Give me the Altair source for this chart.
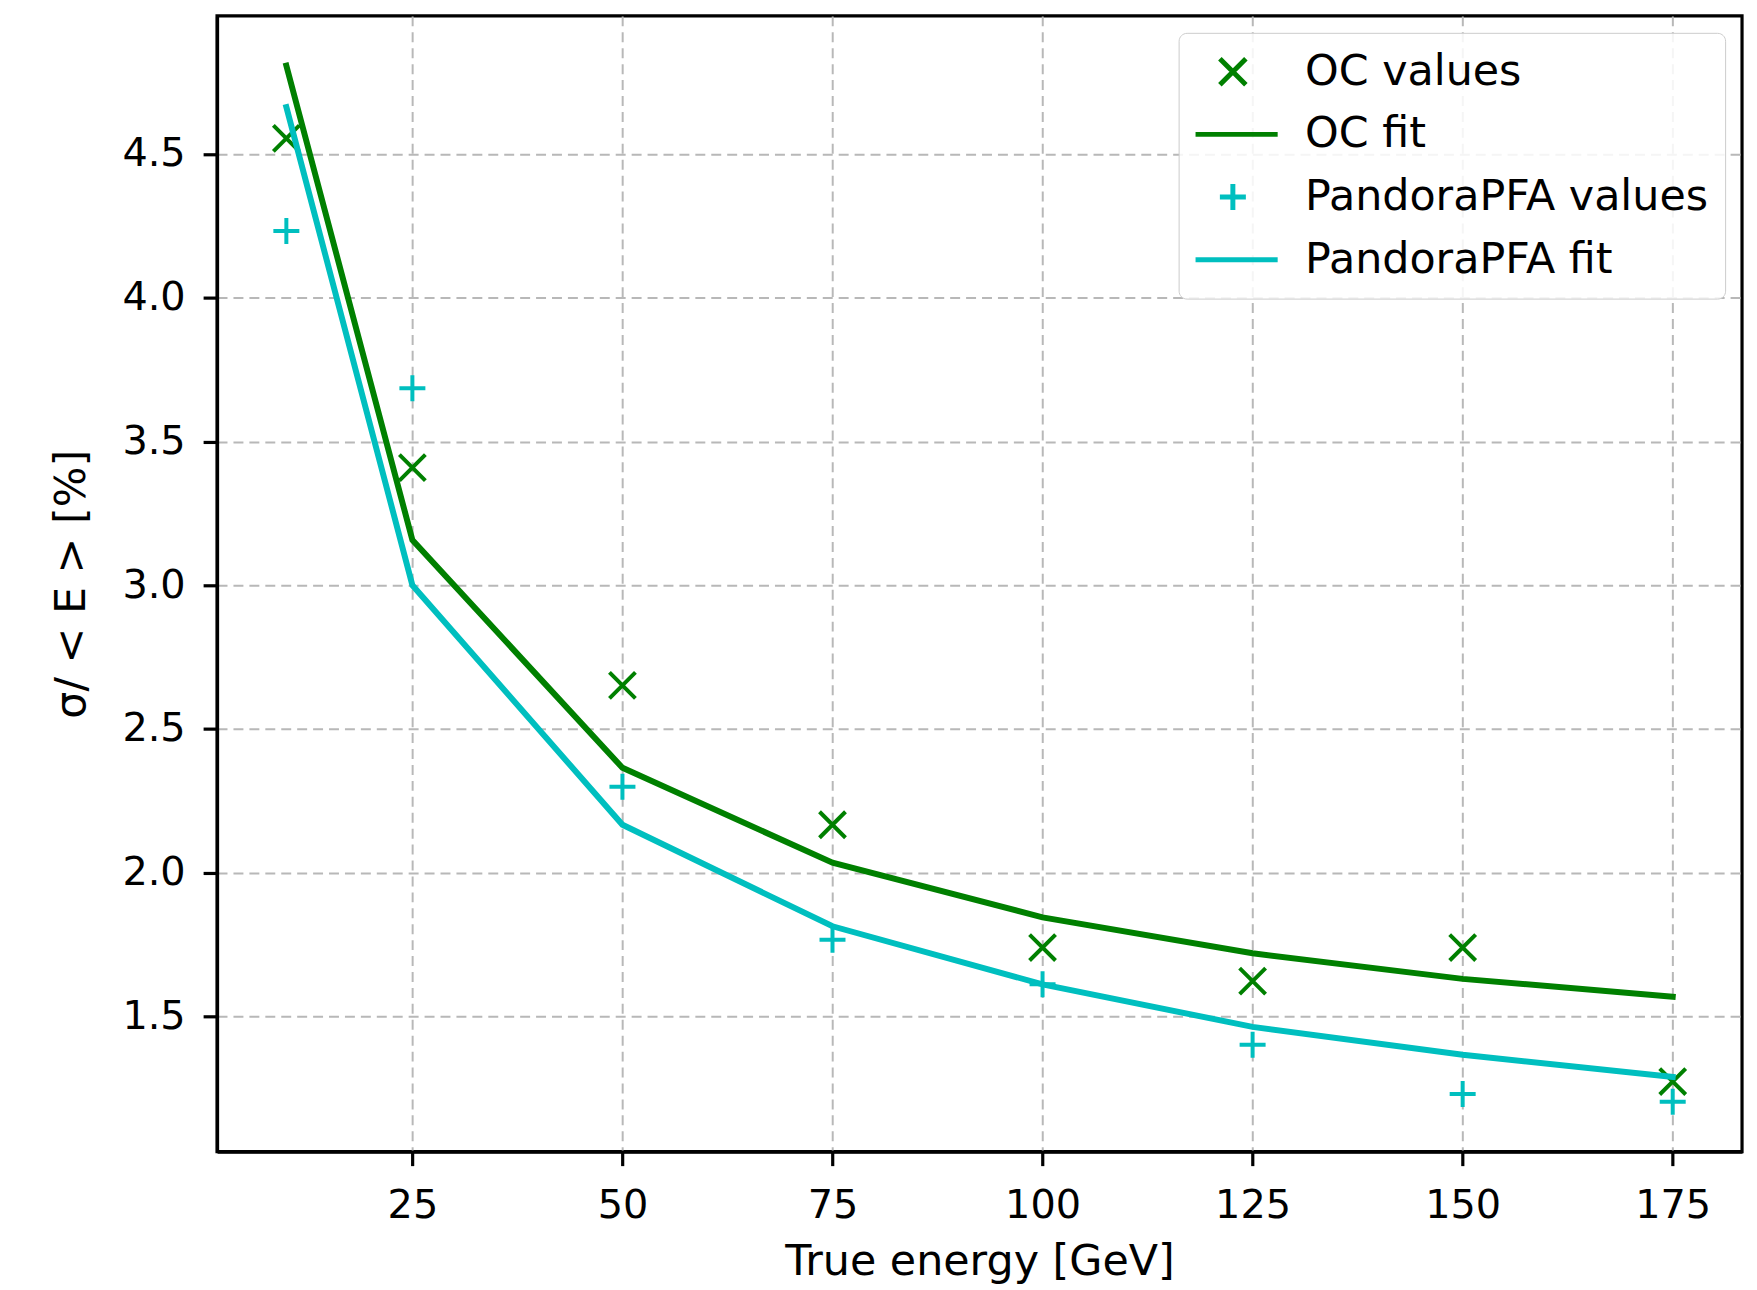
import altair as alt
import pandas as pd

energy = [10, 25, 50, 75, 100, 125, 150, 175]
oc_values = [4.554, 3.409, 2.652, 2.167, 1.740, 1.623, 1.740, 1.274]
pandora_values = [4.232, 3.685, 2.299, 1.767, 1.612, 1.402, 1.231, 1.204]
oc_fit = [4.807, 3.157, 2.365, 2.035, 1.845, 1.720, 1.631, 1.569]
pandora_fit = [4.663, 3.000, 2.167, 1.814, 1.612, 1.464, 1.367, 1.290]

series_names = ["OC values", "OC fit", "PandoraPFA values", "PandoraPFA fit"]
series_colors = ["#008000", "#008000", "#00bfbf", "#00bfbf"]
x_ticks = [25, 50, 75, 100, 125, 150, 175]
y_ticks = [1.5, 2.0, 2.5, 3.0, 3.5, 4.0, 4.5]

X_PATH = "M-0.29,-0.29L0.29,0.29M-0.29,0.29L0.29,-0.29"
PLUS_PATH = "M0,-0.29L0,0.29M-0.29,0L0.29,0"
series_shapes = [X_PATH, "stroke", PLUS_PATH, "stroke"]

rows = []
for name, vals in zip(series_names, [oc_values, oc_fit, pandora_values, pandora_fit]):
    for e, v in zip(energy, vals):
        rows.append({"energy": e, "value": v, "series": name})
df = pd.DataFrame(rows)

FONT = "DejaVu Sans"

x_enc = alt.X("energy:Q",
              scale=alt.Scale(domain=[1.75, 183.25], nice=False, zero=False),
              axis=alt.Axis(values=x_ticks, title="True energy [GeV]", format="d"))
y_enc = alt.Y("value:Q",
              scale=alt.Scale(domain=[1.03, 4.98], nice=False, zero=False),
              axis=alt.Axis(values=y_ticks, title="σ/ < E >  [%]", format=".1f"))

legend = alt.Legend(
    title=None,
    orient="top-right",
    offset=17,
    padding=17,
    fillColor="rgba(255,255,255,0.85)",
    strokeColor="#cccccc",
    cornerRadius=8,
    labelFontSize=43,
    labelFont=FONT,
    labelColor="black",
    labelLimit=800,
    symbolSize=8100,
    symbolStrokeWidth=5,
    symbolOffset=-10,
    labelOffset=25,
    clipHeight=44,
    rowPadding=19,
)

color_enc = alt.Color("series:N",
                      scale=alt.Scale(domain=series_names, range=series_colors),
                      legend=legend)
shape_enc = alt.Shape("series:N",
                      scale=alt.Scale(domain=series_names, range=series_shapes),
                      legend=legend)

base = alt.Chart(df)

layers = []
for name in series_names:
    sub = base.transform_filter(alt.datum.series == name)
    if name.endswith("fit"):
        layers.append(sub.mark_line(strokeWidth=6, strokeCap="square").encode(
            x=x_enc, y=y_enc, color=color_enc))
    else:
        layers.append(sub.mark_point(size=8100, filled=False, strokeWidth=4, opacity=1).encode(
            x=x_enc, y=y_enc, color=color_enc, shape=shape_enc))

chart = alt.layer(*layers).properties(
    width=1532,
    height=1141,
    autosize=alt.AutoSizeParams(type="none"),
    padding={"left": 210, "top": 5, "right": 7, "bottom": 136},
).configure_view(
    stroke="black", strokeWidth=3.2
).configure_axis(
    domainColor="black", domainWidth=3.2,
    tickColor="black", tickWidth=3.2, tickSize=14,
    labelFontSize=40, labelFont=FONT, labelColor="black",
    titleFontSize=43, titleFont=FONT, titleColor="black", titleFontWeight="normal",
    grid=True, gridColor="#b8b8b8", gridDash=[10, 6], gridWidth=2,
).configure_axisX(
    labelPadding=20, titlePadding=15
).configure_axisY(
    labelPadding=18, titlePadding=29
)

chart.save("out.html", embed_options={"renderer": "svg", "actions": False})
